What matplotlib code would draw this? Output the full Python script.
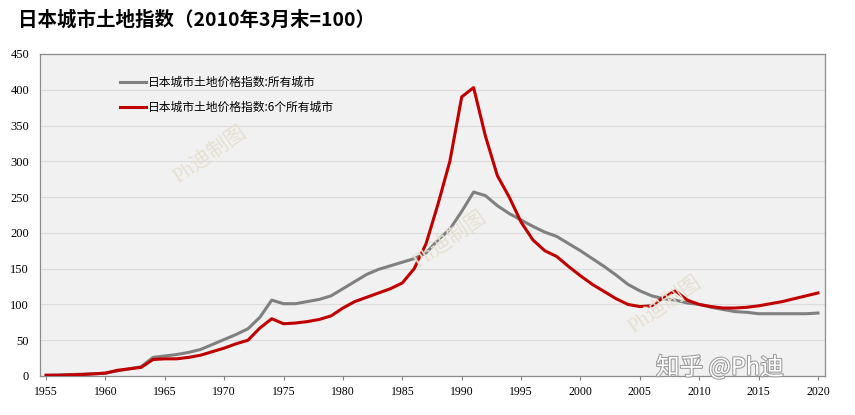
import matplotlib.pyplot as plt
import matplotlib.patheffects as pe

plt.rcParams['font.family'] = ['Liberation Serif', 'Noto Sans CJK SC', 'DejaVu Sans']

years = list(range(1955, 2021))

# 日本城市土地价格指数:所有城市
all_cities = [1, 1.5, 2, 2.5, 3, 4, 7, 10, 13, 26,
              28, 30, 33, 37, 44, 51, 58, 66, 82, 106,
              101, 101, 104, 107, 112, 122, 132, 142, 149, 154,
              159, 164, 172, 190, 205, 230, 257, 252, 238, 227,
              218, 209, 201, 195, 185, 175, 164, 153, 141, 128,
              119, 112, 108, 106, 102, 100, 96, 93, 90, 89,
              87, 87, 87, 87, 87, 88]

# 日本城市土地价格指数:6个所有城市
six_cities = [1, 1, 1.5, 2, 3, 4, 8, 10, 12, 23,
              24, 24, 26, 29, 34, 39, 45, 50, 67, 80,
              73, 74, 76, 79, 84, 95, 104, 110, 116, 122,
              130, 150, 185, 240, 300, 390, 403, 335, 280, 250,
              215, 190, 175, 167, 153, 140, 128, 118, 108, 100,
              97, 98, 110, 119, 106, 100, 97, 95, 95, 96,
              98, 101, 104, 108, 112, 116]

xticks = list(range(1955, 2021, 5))
yticks = list(range(0, 451, 50))

fig = plt.figure(figsize=(8.55, 4.15), dpi=100)
ax = fig.add_axes([0.047, 0.094, 0.918, 0.776])
ax.set_facecolor('#f1f1f1')

ax.plot(years, all_cities, color='#808080', lw=2.2, label='日本城市土地价格指数:所有城市', zorder=3)
ax.plot(years, six_cities, color='#c00000', lw=2.2, label='日本城市土地价格指数:6个所有城市', zorder=3)

ax.set_xlim(1954.5, 2020.6)
ax.set_ylim(0, 450)
ax.set_xticks(xticks)
ax.set_yticks(yticks)
ax.tick_params(axis='x', labelsize=8.5, length=3, color='#808080', pad=4)
ax.tick_params(axis='y', labelsize=9, length=0, pad=8)
ax.grid(axis='y', color='#dcdcdc', lw=0.8)
ax.set_axisbelow(True)
for s in ax.spines.values():
    s.set_color('#8c8c8c')
    s.set_linewidth(0.9)

leg = ax.legend(loc='upper left', bbox_to_anchor=(0.088, 0.965), frameon=False,
                prop={'family': ['Noto Sans CJK SC'], 'size': 8.5},
                handlelength=2.2, labelspacing=1.0, handletextpad=0.2)

# 水印
for x, y in [(210, 155), (450, 240), (665, 305)]:
    fig.text(x / 855, 1 - y / 415, 'Ph迪制图', rotation=35, fontsize=15,
             color='#e6e0d0', ha='center', va='center', zorder=1,
             family=['Liberation Serif', 'Noto Sans CJK SC'])
fig.text(0.842, 0.115, '知乎 @Ph迪', fontsize=17, color='white', ha='center', va='center',
         family=['Noto Sans CJK SC'],
         path_effects=[pe.withStroke(linewidth=1.5, foreground='#9a9a9a')])

fig.text(0.021, 0.952, '日本城市土地指数（2010年3月末=100）', fontsize=14, fontweight='bold',
         ha='left', va='center', family=['Noto Sans CJK SC'])

fig.savefig('out.png', dpi=100)
